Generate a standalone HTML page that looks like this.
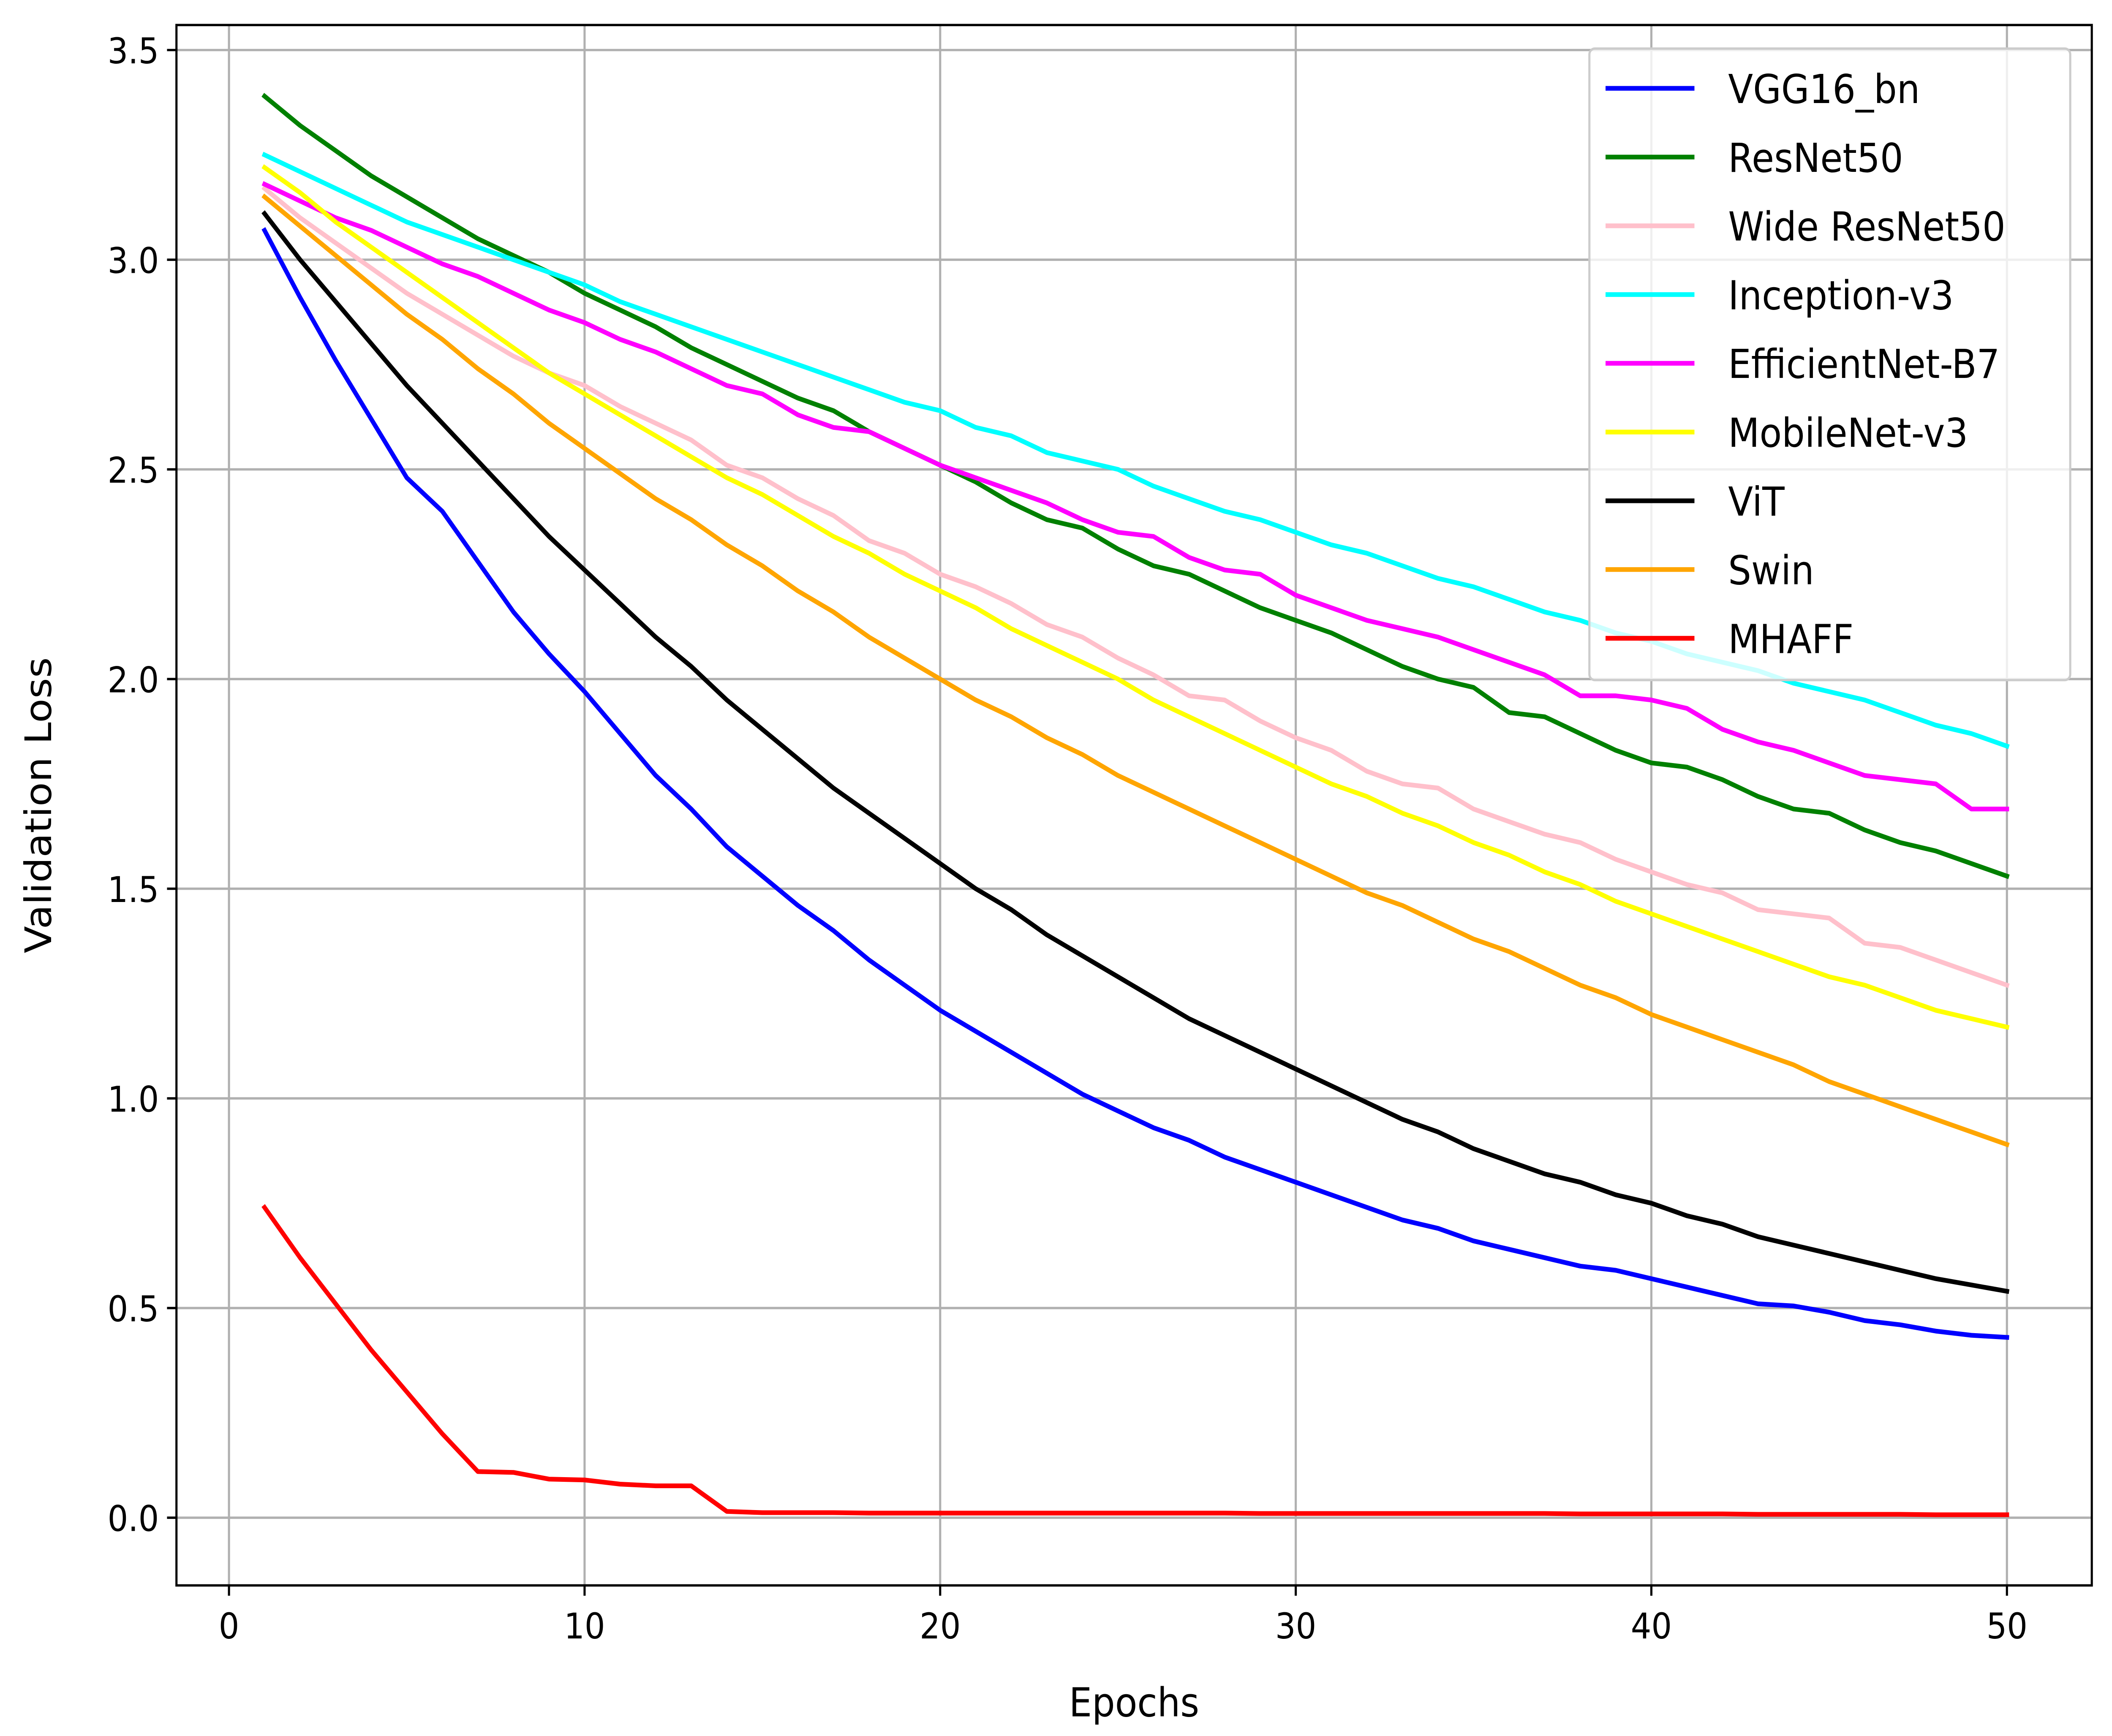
<!DOCTYPE html>
<html><head><meta charset="utf-8"><style>
html,body{margin:0;padding:0;background:#fff;overflow:hidden;width:100vw;height:100vh}
svg{display:block;position:absolute;left:0;top:0;width:100vw;height:100vh;font-family:"DejaVu Sans","Liberation Sans",sans-serif}
</style></head><body>
<svg id="chart" viewBox="0 0 1568 1179.3" preserveAspectRatio="none" xmlns="http://www.w3.org/2000/svg">
<rect width="1568" height="1179.3" fill="#fff"/>
<g id="grid"></g>
<g id="series"></g>
<rect x="131" y="17" width="1422" height="1060" fill="none" stroke="#000" stroke-width="1.6"/>
<g id="ticks"></g>
<text x="842" y="1166" font-size="27" text-anchor="middle">Epochs</text>
<text transform="translate(38,547) rotate(-90)" font-size="27" text-anchor="middle">Validation Loss</text>
<g id="legend"></g>
</svg>
<script>
const epochs=[];for(let i=1;i<=50;i++)epochs.push(i);
const xTicks=[0,10,20,30,40,50];
const yTicks=[0.0,0.5,1.0,1.5,2.0,2.5,3.0,3.5];
const seriesNames=["VGG16_bn","ResNet50","Wide ResNet50","Inception-v3","EfficientNet-B7","MobileNet-v3","ViT","Swin","MHAFF"];
const seriesColors=["#0000ff","#008000","#ffc0cb","#00ffff","#ff00ff","#ffff00","#000000","#ffa500","#ff0000"];
const vgg=[3.07,2.91,2.76,2.62,2.48,2.40,2.28,2.16,2.06,1.97,1.87,1.77,1.69,1.60,1.53,1.46,1.40,1.33,1.27,1.21,1.16,1.11,1.06,1.01,0.97,0.93,0.90,0.86,0.83,0.80,0.77,0.74,0.71,0.69,0.66,0.64,0.62,0.60,0.59,0.57,0.55,0.53,0.51,0.505,0.49,0.47,0.46,0.445,0.435,0.43];
const resnet=[3.39,3.32,3.26,3.20,3.15,3.10,3.05,3.01,2.97,2.92,2.88,2.84,2.79,2.75,2.71,2.67,2.64,2.59,2.55,2.51,2.47,2.42,2.38,2.36,2.31,2.27,2.25,2.21,2.17,2.14,2.11,2.07,2.03,2.00,1.98,1.92,1.91,1.87,1.83,1.80,1.79,1.76,1.72,1.69,1.68,1.64,1.61,1.59,1.56,1.53];
const wide=[3.17,3.10,3.04,2.98,2.92,2.87,2.82,2.77,2.73,2.70,2.65,2.61,2.57,2.51,2.48,2.43,2.39,2.33,2.30,2.25,2.22,2.18,2.13,2.10,2.05,2.01,1.96,1.95,1.90,1.86,1.83,1.78,1.75,1.74,1.69,1.66,1.63,1.61,1.57,1.54,1.51,1.49,1.45,1.44,1.43,1.37,1.36,1.33,1.30,1.27];
const inception=[3.25,3.21,3.17,3.13,3.09,3.06,3.03,3.00,2.97,2.94,2.90,2.87,2.84,2.81,2.78,2.75,2.72,2.69,2.66,2.64,2.60,2.58,2.54,2.52,2.50,2.46,2.43,2.40,2.38,2.35,2.32,2.30,2.27,2.24,2.22,2.19,2.16,2.14,2.11,2.09,2.06,2.04,2.02,1.99,1.97,1.95,1.92,1.89,1.87,1.84];
const effnet=[3.18,3.14,3.10,3.07,3.03,2.99,2.96,2.92,2.88,2.85,2.81,2.78,2.74,2.70,2.68,2.63,2.60,2.59,2.55,2.51,2.48,2.45,2.42,2.38,2.35,2.34,2.29,2.26,2.25,2.20,2.17,2.14,2.12,2.10,2.07,2.04,2.01,1.96,1.96,1.95,1.93,1.88,1.85,1.83,1.80,1.77,1.76,1.75,1.69,1.69];
const mobile=[3.22,3.16,3.09,3.03,2.97,2.91,2.85,2.79,2.73,2.68,2.63,2.58,2.53,2.48,2.44,2.39,2.34,2.30,2.25,2.21,2.17,2.12,2.08,2.04,2.00,1.95,1.91,1.87,1.83,1.79,1.75,1.72,1.68,1.65,1.61,1.58,1.54,1.51,1.47,1.44,1.41,1.38,1.35,1.32,1.29,1.27,1.24,1.21,1.19,1.17];
const vit=[3.11,3.00,2.90,2.80,2.70,2.61,2.52,2.43,2.34,2.26,2.18,2.10,2.03,1.95,1.88,1.81,1.74,1.68,1.62,1.56,1.50,1.45,1.39,1.34,1.29,1.24,1.19,1.15,1.11,1.07,1.03,0.99,0.95,0.92,0.88,0.85,0.82,0.80,0.77,0.75,0.72,0.70,0.67,0.65,0.63,0.61,0.59,0.57,0.555,0.54];
const swin=[3.15,3.08,3.01,2.94,2.87,2.81,2.74,2.68,2.61,2.55,2.49,2.43,2.38,2.32,2.27,2.21,2.16,2.10,2.05,2.00,1.95,1.91,1.86,1.82,1.77,1.73,1.69,1.65,1.61,1.57,1.53,1.49,1.46,1.42,1.38,1.35,1.31,1.27,1.24,1.20,1.17,1.14,1.11,1.08,1.04,1.01,0.98,0.95,0.92,0.89];
const mhaff=[0.74,0.62,0.51,0.40,0.30,0.20,0.11,0.108,0.092,0.09,0.08,0.076,0.076,0.015,0.012,0.012,0.012,0.011,0.011,0.011,0.011,0.011,0.011,0.011,0.011,0.011,0.011,0.011,0.010,0.010,0.010,0.010,0.010,0.010,0.010,0.010,0.010,0.009,0.009,0.009,0.009,0.009,0.008,0.008,0.008,0.008,0.008,0.007,0.007,0.007];
const seriesData=[vgg,resnet,wide,inception,effnet,mobile,vit,swin,mhaff];

const NS="http://www.w3.org/2000/svg";
const X0=131,X1=1553,Y0=17,Y1=1077;
function xs(v){return 170+(v-0)*(1490-170)/50;}
function ys(v){return 1031-v*(1031-34)/3.5;}
function mk(tag,attrs,parent){const e=document.createElementNS(NS,tag);for(const k in attrs)e.setAttribute(k,attrs[k]);parent.appendChild(e);return e;}
const grid=document.getElementById('grid'),ticks=document.getElementById('ticks'),ser=document.getElementById('series'),leg=document.getElementById('legend');
xTicks.forEach(t=>{
  const x=xs(t);
  const g=mk('line',{x1:x,x2:x,y1:Y0,y2:Y1,stroke:'#b0b0b0','stroke-width':1.6},grid);
  
  
  const tk=mk('line',{x1:x,x2:x,y1:Y1,y2:Y1+7,stroke:'#000','stroke-width':1.6},ticks);
  
  
  const tl=mk('text',{x:x,y:Y1+36,'font-size':24,'text-anchor':'middle'},ticks);
  tl.textContent=String(t);
  
  
});
yTicks.forEach(t=>{
  const y=ys(t);
  const g=mk('line',{x1:X0,x2:X1,y1:y,y2:y,stroke:'#b0b0b0','stroke-width':1.6},grid);
  
  
  const tk=mk('line',{x1:X0-7,x2:X0,y1:y,y2:y,stroke:'#000','stroke-width':1.6},ticks);
  
  
  const tl=mk('text',{x:X0-13,y:y+9,'font-size':24,'text-anchor':'end'},ticks);
  tl.textContent=t.toFixed(1);
  
  
});
seriesData.forEach((d,i)=>{
  const pts=d.map((v,j)=>xs(epochs[j]).toFixed(2)+','+ys(v).toFixed(2)).join(' ');
  const p=mk('polyline',{points:pts,fill:'none',stroke:seriesColors[i],'stroke-width':3.2,'stroke-linejoin':'round','stroke-linecap':'square'},ser);
  
  
});
const lb=mk('rect',{x:1180,y:33,width:357,height:429,rx:4,fill:'#fff','fill-opacity':0.8,stroke:'#cccccc','stroke-width':1.6},leg);


seriesNames.forEach((n,i)=>{
  const y=60+i*46.7;
  const l=mk('line',{x1:1192,x2:1258,y1:y,y2:y,stroke:seriesColors[i],'stroke-width':3.2},leg);
  
  
  const t=mk('text',{x:1283,y:y+10,'font-size':27},leg);
  t.textContent=n;
  
  
});
</script>
</body></html>
